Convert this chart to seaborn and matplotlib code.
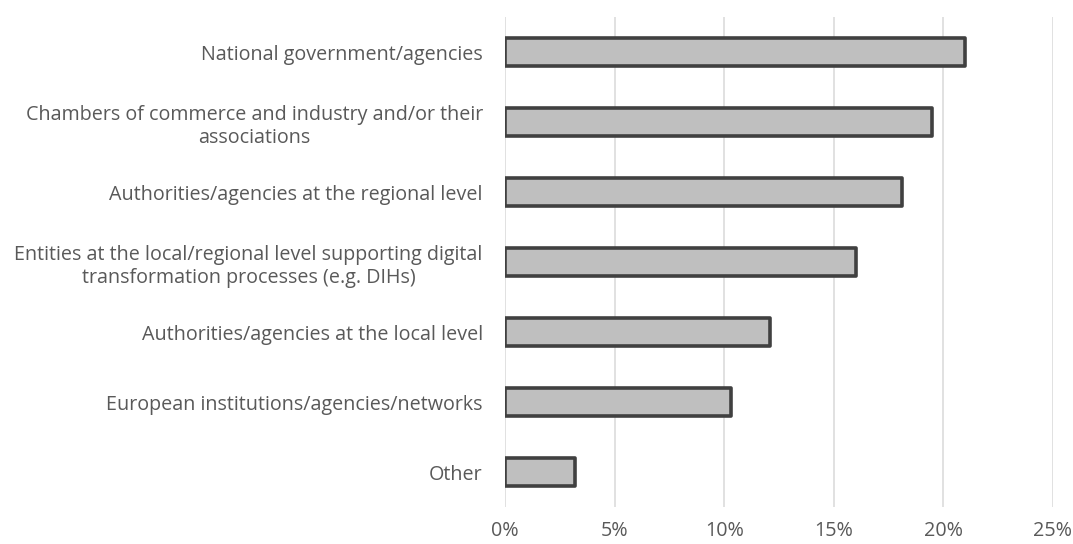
import matplotlib
matplotlib.use("Agg")
import matplotlib.pyplot as plt
import seaborn as sns
import pandas as pd
from matplotlib.ticker import PercentFormatter

categories = [
    "National government/agencies",
    "Chambers of commerce and industry and/or their associations",
    "Authorities/agencies at the regional level",
    "Entities at the local/regional level supporting digital transformation processes (e.g. DIHs)",
    "Authorities/agencies at the local level",
    "European institutions/agencies/networks",
    "Other",
]
tick_labels = [
    "National government/agencies",
    "Chambers of commerce and industry and/or their\nassociations",
    "Authorities/agencies at the regional level",
    "Entities at the local/regional level supporting digital\ntransformation processes (e.g. DIHs)",
    "Authorities/agencies at the local level",
    "European institutions/agencies/networks",
    "Other",
]
values = [21.0, 19.5, 18.1, 16.0, 12.1, 10.3, 3.2]
x_ticks = [0, 5, 10, 15, 20, 25]

sns.set_theme(style="white")
plt.rcParams["font.family"] = ["Open Sans", "DejaVu Sans"]

df = pd.DataFrame({"category": categories, "value": values})

fig = plt.figure(figsize=(10.73, 5.44), dpi=100)
ax = fig.add_axes([505 / 1073, 37 / 544, 548 / 1073, 490 / 544])

sns.barplot(data=df, y="category", x="value", orient="h", ax=ax,
            color="#bfbfbf", saturation=1, width=0.4,
            edgecolor="#404040", linewidth=2.6, zorder=3)
for p in ax.patches:
    p.set_joinstyle("round")

ax.set_xlim(0, 25)
ax.set_xticks(x_ticks)
ax.xaxis.set_major_formatter(PercentFormatter(decimals=0))
ax.set_yticks(range(len(categories)))
ax.set_yticklabels(tick_labels, multialignment="center", linespacing=1.2)
ax.set_xlabel("")
ax.set_ylabel("")
ax.grid(axis="x", color="#d9d9d9", linewidth=1.1, zorder=0)
ax.grid(axis="y", visible=False)
for s in ax.spines.values():
    s.set_visible(False)
ax.tick_params(axis="y", length=0, pad=16, labelsize=14.2, labelcolor="#595959")
ax.tick_params(axis="x", length=0, pad=10, labelsize=14.2, labelcolor="#595959")

fig.savefig("out.png", dpi=100)
